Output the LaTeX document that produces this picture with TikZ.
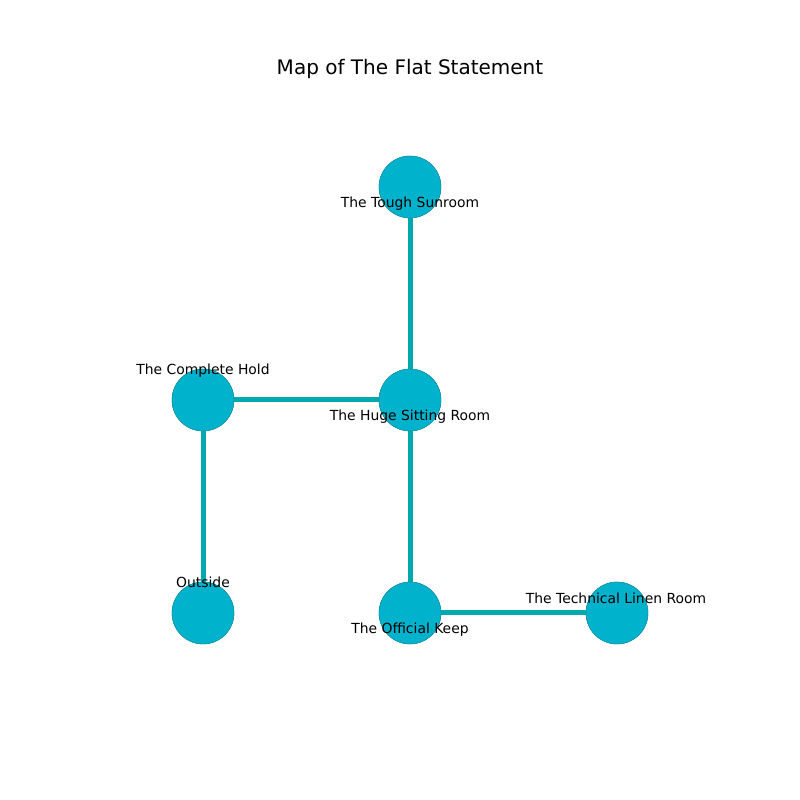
\documentclass[tikz,border=0pt]{standalone}
\usepackage{fontspec}
\setmainfont{DejaVu Sans}
\definecolor{nodefill}{HTML}{00B2CC}
\definecolor{nodeline}{HTML}{1A8A99}
\definecolor{edgecol}{HTML}{00A9AD}
\begin{document}
\begin{tikzpicture}[x=1pt,y=1pt,
  room/.style={circle,fill=nodefill,draw=nodeline,line width=0.4pt,minimum size=62pt,inner sep=0pt},
  link/.style={draw=edgecol,line width=5pt},
  lbl/.style={font=\fontsize{13.9}{16}\selectfont,inner sep=0pt,anchor=base}]
\useasboundingbox (0,0) rectangle (800,800);
\node[font=\fontsize{20}{24}\selectfont,anchor=base] (title) at (410,725) {Map of The Flat Statement};
\node[room] (sun) at (410,613) {};
\node[room] (sit) at (410,400) {};
\node[room] (hold) at (203,400) {};
\node[room] (out) at (203,187) {};
\node[room] (keep) at (410,187) {};
\node[room] (linen) at (617,187) {};
\path[link] (sun) -- (sit);
\path[link] (hold) -- (sit);
\path[link] (hold) -- (out);
\path[link] (sit) -- (keep);
\path[link] (keep) -- (linen);
\node[room] at (sun) {};
\node[room] at (sit) {};
\node[room] at (hold) {};
\node[room] at (out) {};
\node[room] at (keep) {};
\node[room] at (linen) {};
\node[lbl] (l1) at (410,592.5) {The Tough Sunroom};
\node[lbl] (l2) at (203,425.5) {The Complete Hold};
\node[lbl] (l3) at (410,379.5) {The Huge Sitting Room};
\node[lbl] (l4) at (203,212.5) {Outside};
\node[lbl] (l5) at (410,166.5) {The Official Keep};
\node[lbl] (l6) at (616,196.5) {The Technical Linen Room};
\end{tikzpicture}
\end{document}
